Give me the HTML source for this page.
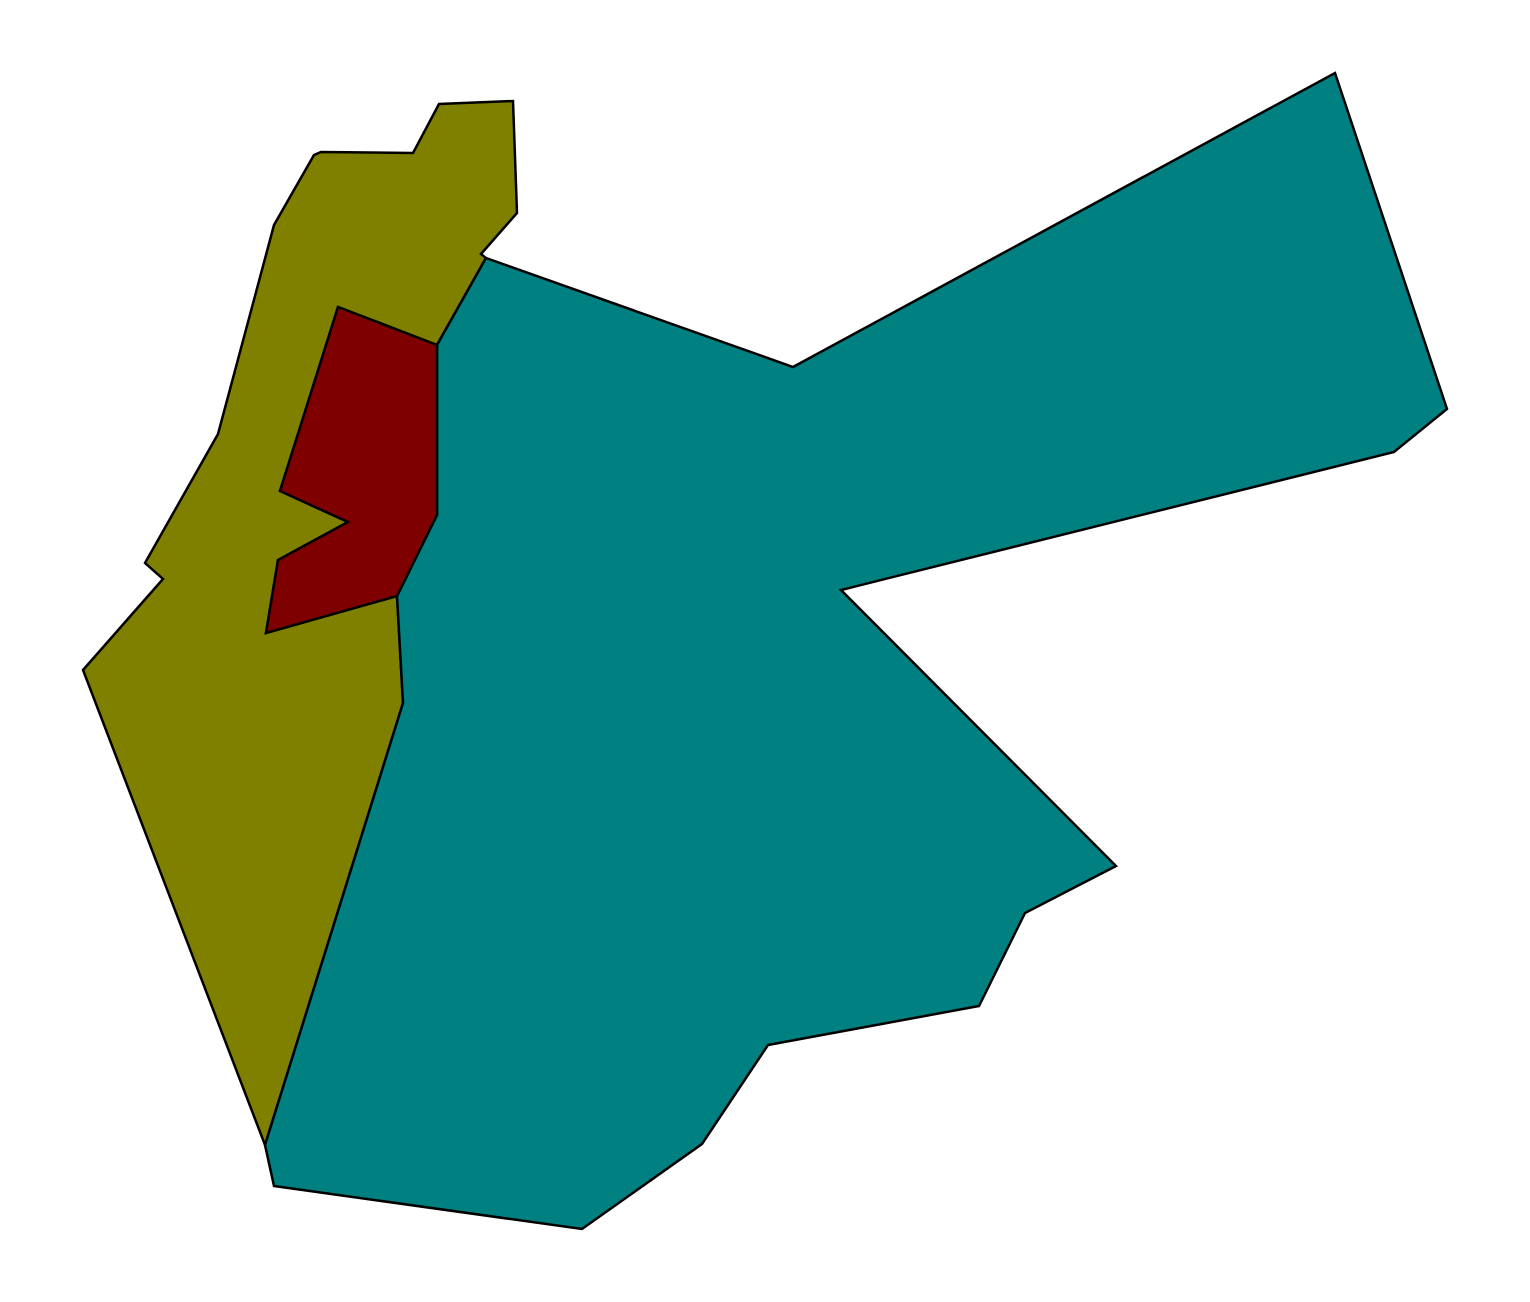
<!DOCTYPE html>
<html><head><meta charset="utf-8"><style>html,body{margin:0;padding:0;background:#fff}svg{display:block}</style></head>
<body>
<svg id="map" width="1530" height="1302" viewBox="0 0 1530 1302" xmlns="http://www.w3.org/2000/svg"></svg>
<script>
const regionNames = ['israel', 'west-bank', 'jordan'];
const israelVertices = [[83,670],[163,579],[145,563],[218,434],[274,225],[314,155],[321,152],[413,153],[439,104],[513,101],[517,213],[481,254],[486,258],[437,345],[338,307],[280,491],[348,522],[278,560],[266,633],[397,596],[403,703],[265,1145]];
const westBankVertices = [[338,307],[437,345],[437,515],[397,596],[266,633],[278,560],[348,522],[280,491]];
const jordanVertices = [[486,258],[793,367],[1335,73],[1447,409],[1394,452],[841,590],[1116,866],[1025,913],[979,1006],[768,1045],[702,1144],[582,1229],[274,1186],[265,1145],[403,703],[397,596],[437,515],[437,345]];
const regionColors = ['#808000', '#7f0000', '#008080'];

const svg = document.getElementById('map');
const allVertices = [israelVertices, westBankVertices, jordanVertices];
const order = [0, 2, 1];
order.forEach(i => {
  const p = document.createElementNS('http://www.w3.org/2000/svg', 'polygon');
  p.setAttribute('points', allVertices[i].map(v => v[0] + ',' + v[1]).join(' '));
  p.setAttribute('fill', regionColors[i]);
  p.setAttribute('stroke', '#000');
  p.setAttribute('stroke-width', '2.5');
  p.setAttribute('stroke-linejoin', 'miter');
  
  
  svg.appendChild(p);
});
</script>
</body></html>
